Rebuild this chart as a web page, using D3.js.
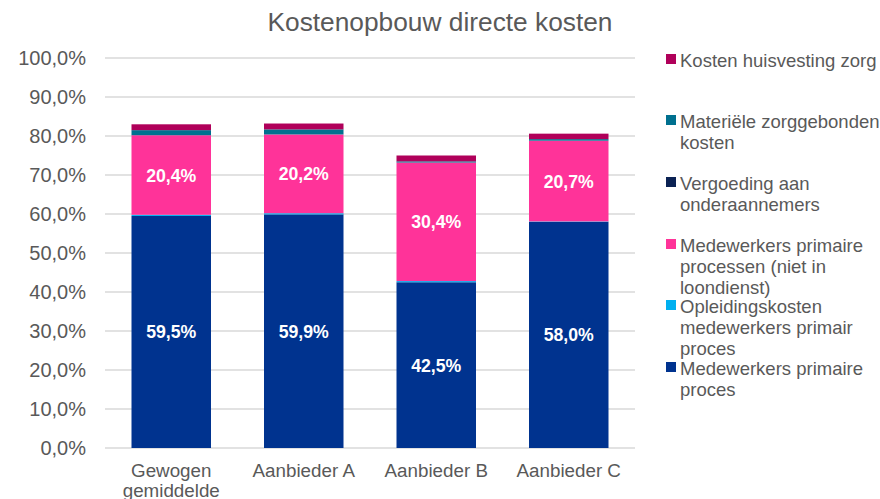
<!DOCTYPE html>
<html><head><meta charset="utf-8">
<script src="https://cdn.jsdelivr.net/npm/d3@7"></script>
<style>body{margin:0;background:#fff;font-family:"Liberation Sans",Arial,sans-serif;}</style>
</head><body><svg id="c" width="880" height="499"></svg>
<script>
const categories = ["Gewogen gemiddelde", "Aanbieder A", "Aanbieder B", "Aanbieder C"];
const seriesNames = ["Medewerkers primaire proces", "Opleidingskosten medewerkers primair proces", "Medewerkers primaire processen (niet in loondienst)", "Vergoeding aan onderaannemers", "Materiële zorggebonden kosten", "Kosten huisvesting zorg"];
const medewerkers = [59.5, 59.9, 42.5, 58.0];
const opleiding = [0.3, 0.3, 0.3, 0.1];
const nietLoondienst = [20.4, 20.2, 30.4, 20.7];
const vergoeding = [0.0, 0.0, 0.0, 0.0];
const materieel = [1.3, 1.3, 0.3, 0.4];
const huisvesting = [1.5, 1.5, 1.5, 1.4];
const seriesColors = ["#00338F", "#00B0F0", "#FF3399", "#0B2253", "#00708F", "#B0005A"];
const yTicks = [0,10,20,30,40,50,60,70,80,90,100];
const legendLines = [["Kosten huisvesting zorg"],["Materiële zorggebonden","kosten"],["Vergoeding aan","onderaannemers"],["Medewerkers primaire","processen (niet in","loondienst)"],["Opleidingskosten","medewerkers primair","proces"],["Medewerkers primaire","proces"]];
const legendColors = ["#B0005A","#00708F","#0B2253","#FF3399","#00B0F0","#00338F"];
const legendY = [60,121,183,245,306,368];
const catLines = [["Gewogen","gemiddelde"],["Aanbieder A"],["Aanbieder B"],["Aanbieder C"]];

const values = [medewerkers, opleiding, nietLoondienst, vergoeding, materieel, huisvesting];
const labeled = [true,false,true,false,false,false];
const svg = d3.select("#c");
const fmt = v => v.toFixed(1).replace(".", ",") + "%";

const x = d3.scaleBand().domain(categories).range([105, 635]).paddingInner(0.4).paddingOuter(0.2);
const y = d3.scaleLinear().domain([0,100]).range([448, 58]);

svg.append("text").attr("x", 440).attr("y", 31).attr("text-anchor","middle")
  .attr("font-size", 26.3).attr("fill","#595959").text("Kostenopbouw directe kosten");

// gridlines
svg.append("g").selectAll("line").data(yTicks).join("line")
  .attr("x1",105).attr("x2",635).attr("y1",d=>y(d)).attr("y2",d=>y(d))
  .attr("stroke","#D9D9D9").attr("stroke-width",1.3);

// y labels
const yAxis = svg.append("g").attr("transform","translate(86,0)")
  .call(d3.axisLeft(y).tickValues(yTicks).tickSize(0).tickPadding(0).tickFormat(d => fmt(d)));
yAxis.select(".domain").remove();
yAxis.selectAll("text").attr("font-size",20).attr("fill","#595959").attr("font-family","Liberation Sans, Arial, sans-serif");

// stacks
const rows = categories.map((c,i)=>{const o={cat:c}; seriesNames.forEach((s,j)=>o[s]=values[j][i]); return o;});
const stack = d3.stack().keys(seriesNames)(rows);
stack.forEach((layer, j) => {
  const g = svg.append("g");
  g.selectAll("rect").data(layer).join("rect")
    .attr("x", d => x(d.data.cat)).attr("width", x.bandwidth())
    .attr("y", d => y(d[1])).attr("height", d => Math.max(0, y(d[0]) - y(d[1])))
    .attr("fill", seriesColors[j]);
  if (labeled[j]) {
    g.selectAll("text").data(layer).join("text")
      .attr("x", d => x(d.data.cat) + x.bandwidth()/2)
      .attr("y", d => (y(d[0]) + y(d[1]))/2 + 6.5)
      .attr("text-anchor","middle").attr("font-size",17.7).attr("font-weight","bold")
      .attr("fill","#fff").text(d => fmt(d[1]-d[0]));
  }
});

// x labels
const xl = svg.append("g");
categories.forEach((c,i)=>{
  catLines[i].forEach((t,k)=>{
    xl.append("text").attr("x", x(c)+x.bandwidth()/2).attr("y", 477 + k*20)
      .attr("text-anchor","middle").attr("font-size",18.8).attr("fill","#595959").text(t);
  });
});

// legend
const lg = svg.append("g");
legendLines.forEach((lines,i)=>{
  lg.append("rect").attr("x",666).attr("y",legendY[i]-6).attr("width",10).attr("height",10).attr("fill",legendColors[i]);
  lines.forEach((t,k)=>{
    lg.append("text").attr("x",680).attr("y",legendY[i]+6.5+k*21.3)
      .attr("font-size",18.5).attr("fill","#595959").text(t);
  });
});
</script></body></html>
